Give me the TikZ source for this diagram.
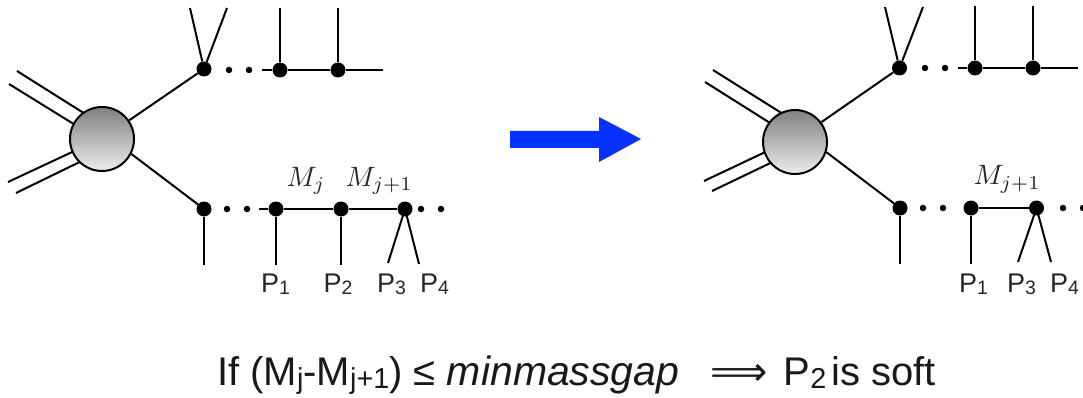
\documentclass[tikz,border=0pt]{standalone}
\usepackage{fontspec}
\setmainfont{Liberation Sans}
\newfontfamily\symfont{DejaVu Sans}
\newcommand{\lowsub}[1]{\raisebox{-.08em}{\scalebox{.72}{#1}}}
\tikzset{
   line/.style={line width=2pt},
   blob/.style={circle, draw, line width=2pt, minimum size=64pt, inner sep=0pt, top color=black!50, bottom color=black!7},
   vtx/.style={circle, fill=black, minimum size=15pt, inner sep=0pt},
   dotb/.style={circle, fill=black, minimum size=6.5pt, inner sep=0pt},
   plabel/.style={anchor=base west, inner sep=0pt, text=black!85, font=\fontsize{27}{30}\selectfont},
   mlabel/.style={anchor=base west, inner sep=0pt, text=black!85, scale=2.8}
}
\begin{document}
\begin{tikzpicture}[x=1pt,y=-1pt]
   \useasboundingbox (0,0) rectangle (1083,398);

   % left diagram
   \coordinate (lin1) at (17,71);   \coordinate (lout1) at (90,117);
   \coordinate (lin2) at (9,84);    \coordinate (lout2) at (85,131);
   \coordinate (lin3) at (8,182);   \coordinate (lout3) at (85,146);
   \coordinate (lin4) at (16,193);  \coordinate (lout4) at (90,157);
   \draw[line] (lin1) -- (lout1);
   \draw[line] (lin2) -- (lout2);
   \draw[line] (lin3) -- (lout3);
   \draw[line] (lin4) -- (lout4);
   \node[blob] (lblob) at (102,139) {};

   \node[vtx] (la) at (204,69) {};
   \node[vtx] (lb) at (204,209) {};
   \draw[line] (lblob) -- (la);
   \draw[line] (lblob.-27) -- (lb);

   \coordinate (lv1) at (190,8);
   \coordinate (lv2) at (227,8);
   \draw[line] (lv1) -- (la);
   \draw[line] (lv2) -- (la);
   \node[dotb] (la1) at (229,70) {};
   \node[dotb] (la2) at (249,70) {};

   \coordinate (lts) at (262,70);
   \coordinate (lte) at (383,70);
   \node[vtx] (lt1) at (280,70) {};
   \node[vtx] (lt2) at (338,70) {};
   \coordinate (lu1) at (280,8);
   \coordinate (lu2) at (338,8);
   \draw[line] (lts) -- (lt1) -- (lt2) -- (lte);
   \draw[line] (lu1) -- (lt1);
   \draw[line] (lu2) -- (lt2);

   \coordinate (ld0) at (204,265);
   \draw[line] (lb) -- (ld0);
   \node[dotb] (lb1) at (227,209) {};
   \node[dotb] (lb2) at (247,209) {};

   \coordinate (lbs) at (259,209);
   \node[vtx] (lc1) at (276,209) {};
   \node[vtx] (lc2) at (341,209) {};
   \node[vtx] (lc3) at (405,209) {};
   \draw[line] (lbs) -- (lc1) -- (lc2) -- (lc3);
   \coordinate (ld1) at (276,265);
   \coordinate (ld2) at (341,265);
   \coordinate (ld3) at (388,263);
   \coordinate (ld4) at (419,264);
   \draw[line] (lc1) -- (ld1);
   \draw[line] (lc2) -- (ld2);
   \draw[line] (lc3.center) -- (ld3);
   \draw[line] (lc3.center) -- (ld4);
   \node[dotb] (lc4) at (421,209) {};
   \node[dotb] (lc5) at (441,209) {};

   \node[mlabel] (lmj) at (286,186) {$M_j$};
   \node[mlabel] (lmk) at (345,186) {$M_{j+1}$};
   \node[plabel] (lp1) at (261,292) {P\lowsub{1}};
   \node[plabel] (lp2) at (323.5,292) {P\lowsub{2}};
   \node[plabel] (lp3) at (377,292) {P\lowsub{3}};
   \node[plabel] (lp4) at (420,292) {P\lowsub{4}};

   % arrow
   \fill[fill={rgb,255:red,5;green,50;blue,255}] (510,131) -- (599,131) -- (599,117) -- (641,139) -- (599,162) -- (599,148) -- (510,148) -- cycle;

   % right diagram
   \coordinate (rin1) at (713,70);   \coordinate (rout1) at (783,114);
   \coordinate (rin2) at (705,82);   \coordinate (rout2) at (778,128);
   \coordinate (rin3) at (704,181);  \coordinate (rout3) at (778,146);
   \coordinate (rin4) at (712,191);  \coordinate (rout4) at (783,157);
   \draw[line] (rin1) -- (rout1);
   \draw[line] (rin2) -- (rout2);
   \draw[line] (rin3) -- (rout3);
   \draw[line] (rin4) -- (rout4);
   \node[blob] (rblob) at (795,142) {};

   \node[vtx] (ra) at (899.5,68) {};
   \node[vtx] (rb) at (900,208) {};
   \draw[line] (rblob.37) -- (ra);
   \draw[line] (rblob.-18) -- (rb);

   \coordinate (rv1) at (885,7);
   \coordinate (rv2) at (923,7);
   \draw[line] (rv1) -- (ra);
   \draw[line] (rv2) -- (ra);
   \node[dotb] (ra1) at (925,68) {};
   \node[dotb] (ra2) at (945,68) {};

   \coordinate (rts) at (958,68);
   \coordinate (rte) at (1078,68);
   \node[vtx] (rt1) at (975,68) {};
   \node[vtx] (rt2) at (1033,68) {};
   \coordinate (ru1) at (975,6);
   \coordinate (ru2) at (1033,6);
   \draw[line] (rts) -- (rt1) -- (rt2) -- (rte);
   \draw[line] (ru1) -- (rt1);
   \draw[line] (ru2) -- (rt2);

   \coordinate (rd0) at (900,264);
   \draw[line] (rb) -- (rd0);
   \node[dotb] (rb1) at (923,208) {};
   \node[dotb] (rb2) at (943,208) {};

   \node[vtx] (rc1) at (971,208) {};
   \node[vtx] (rc2) at (1036.5,208) {};
   \draw[line] (rc1) -- (rc2);
   \coordinate (rd1) at (971,264);
   \coordinate (rd3) at (1018,262);
   \coordinate (rd4) at (1051,262);
   \draw[line] (rc1) -- (rd1);
   \draw[line] (rc2.center) -- (rd3);
   \draw[line] (rc2.center) -- (rd4);
   \node[dotb] (rc3) at (1063,208) {};
   \node[dotb] (rc4) at (1083,208) {};

   \node[mlabel] (rmk) at (973,185) {$M_{j+1}$};
   \node[plabel] (rp1) at (959,292.5) {P\lowsub{1}};
   \node[plabel] (rp3) at (1007,292.5) {P\lowsub{3}};
   \node[plabel] (rp4) at (1050,292.5) {P\lowsub{4}};

   % condition
   \node[anchor=base west, inner sep=0pt, text=black!90, font=\fontsize{40}{44}\selectfont] (cond) at (217,385)
      {If (M\lowsub{j}-M\lowsub{j+1}) ≤ {\fontsize{41}{44}\selectfont\textit{minmassgap}}\hspace{31pt}{\symfont ⟹}\hspace{16pt}P\lowsub{2}\hspace{5pt}is soft};
\end{tikzpicture}
\end{document}
